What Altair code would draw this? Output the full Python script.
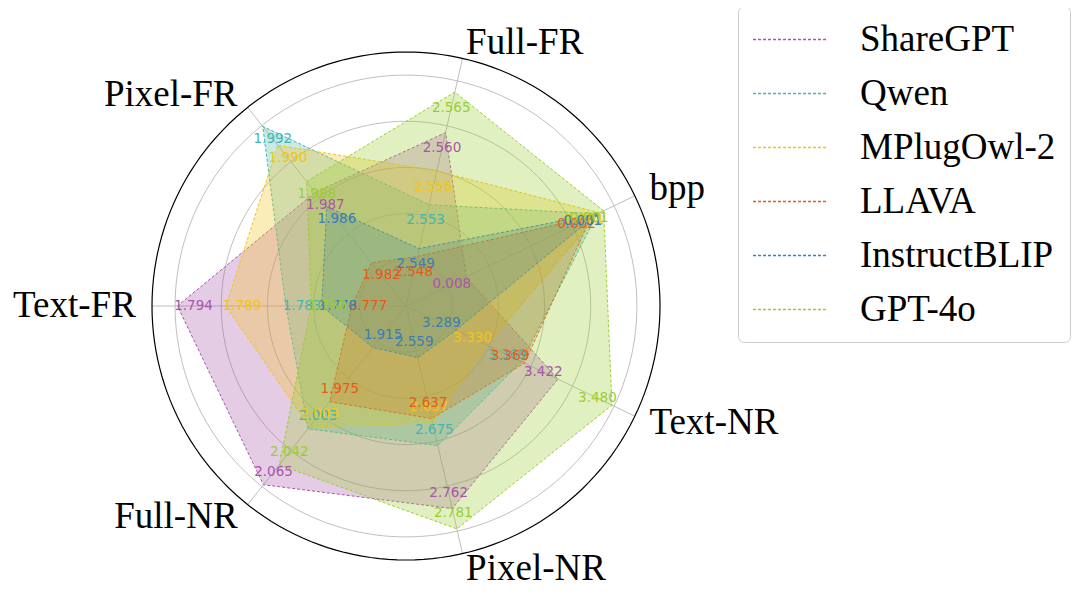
import altair as alt
import pandas as pd

# ---------------- data ----------------
axes = ["bpp", "Full-FR", "Pixel-FR", "Text-FR", "Full-NR", "Pixel-NR", "Text-NR"]
models = ["ShareGPT", "Qwen", "MPlugOwl-2", "LLAVA", "InstructBLIP", "GPT-4o"]
colors = ["#AA55AA", "#45B5B0", "#F2C416", "#E8591A", "#3A7EB5", "#9ACD32"]

# normalised radial position of each model on each axis (order = axes)
r_sharegpt = [0.29, 0.77, 0.63, 0.99, 0.99, 0.90, 0.73]
r_qwen = [0.92, 0.45, 0.995, 0.52, 0.68, 0.62, 0.555]
r_mplug = [0.93, 0.60, 0.89, 0.78, 0.67, 0.52, 0.39]
r_llava = [0.89, 0.22, 0.24, 0.235, 0.53, 0.50, 0.57]
r_instruct = [0.92, 0.255, 0.55, 0.365, 0.23, 0.23, 0.24]
r_gpt4o = [0.95, 0.95, 0.69, 0.41, 0.88, 0.99, 0.99]

# value labels printed at the vertices (order = axes)
v_sharegpt = ["0.008", "2.560", "1.987", "1.794", "2.065", "2.762", "3.422"]
v_qwen = ["0.001", "2.553", "1.992", "1.783", "2.003", "2.675", "3.369"]
v_mplug = ["0.001", "2.556", "1.990", "1.789", "2.003", "2.637", "3.330"]
v_llava = ["0.002", "2.548", "1.982", "0.777", "1.975", "2.637", "3.369"]
v_instruct = ["0.001", "2.549", "1.986", "1.778", "1.915", "2.559", "3.289"]
v_gpt4o = ["0.001", "2.565", "1.988", "1.780", "2.042", "2.781", "3.480"]

grid_levels = [0.2, 0.4, 0.6, 0.8, 1.0]
outer_level = [1.1]

radii = [r_sharegpt, r_qwen, r_mplug, r_llava, r_instruct, r_gpt4o]
vals = [v_sharegpt, v_qwen, v_mplug, v_llava, v_instruct, v_gpt4o]

rows = []
for mi, m in enumerate(models):
    for ai, a in enumerate(axes):
        rows.append({"model": m, "morder": mi, "axis": a, "idx": ai,
                     "r": radii[mi][ai], "label": vals[mi][ai]})
df = pd.DataFrame(rows)
axes_df = pd.DataFrame({"axis": axes, "idx": list(range(len(axes)))})

ring_rows = []
for lv in grid_levels + outer_level:
    for deg in range(0, 361, 2):
        ring_rows.append({"level": lv, "deg": deg})
ring_df = pd.DataFrame(ring_rows)

# ---------------- scales ----------------
W = 508
xs = alt.Scale(domain=[-1.1, 1.1], nice=False, zero=False)
ys = alt.Scale(domain=[-1.1, 1.1], nice=False, zero=False)
cscale = alt.Scale(domain=models, range=colors)

theta_expr = "(datum.idx + 0.5) * 2 * PI / 7"

base = alt.Chart(df).transform_calculate(
    th=theta_expr
).transform_calculate(
    x="datum.r * cos(datum.th)",
    y="datum.r * sin(datum.th)",
    lx="(datum.r - 0.07) * cos(datum.th)",
    ly="(datum.r - 0.07) * sin(datum.th)",
)

# grid rings
rings = alt.Chart(ring_df).transform_filter("datum.level <= 1.0").transform_calculate(
    x="datum.level * cos(datum.deg * PI / 180)",
    y="datum.level * sin(datum.deg * PI / 180)",
).mark_line(color="#b8b8b8", strokeWidth=0.9).encode(
    x=alt.X("x:Q", scale=xs, axis=None),
    y=alt.Y("y:Q", scale=ys, axis=None),
    detail="level:N",
    order="deg:Q",
)

outer = alt.Chart(ring_df).transform_filter("datum.level > 1.0").transform_calculate(
    x="datum.level * cos(datum.deg * PI / 180)",
    y="datum.level * sin(datum.deg * PI / 180)",
).mark_line(color="black", strokeWidth=1.2).encode(
    x=alt.X("x:Q", scale=xs, axis=None),
    y=alt.Y("y:Q", scale=ys, axis=None),
    order="deg:Q",
)

spokes = alt.Chart(axes_df).transform_calculate(
    th=theta_expr
).transform_calculate(
    x0="0", y0="0",
    x1="1.1 * cos(datum.th)", y1="1.1 * sin(datum.th)",
).mark_rule(color="#b8b8b8", strokeWidth=0.9).encode(
    x=alt.X("x0:Q", scale=xs, axis=None),
    y=alt.Y("y0:Q", scale=ys, axis=None),
    x2="x1:Q",
    y2="y1:Q",
)

legend = alt.Legend(
    title=None, orient="none", legendX=586, legendY=-46,
    symbolType="M-2,0H2", symbolSize=1406, symbolStrokeWidth=1.4,
    symbolDash=[3, 2], symbolOffset=19, symbolFillColor="transparent",
    labelFont="Liberation Serif", labelFontSize=37,
    labelColor="black", labelOffset=50, rowPadding=16, padding=14,
    strokeColor="#cccccc", cornerRadius=6, fillColor="white", labelLimit=0,
)

polys = []
for m, c in zip(models, colors):
    polys.append(
        base.transform_filter(alt.datum.model == m).mark_line(
            interpolate="linear-closed", strokeDash=[3, 2], strokeWidth=1,
            fill=c, fillOpacity=0.3,
        ).encode(
            x=alt.X("x:Q", scale=xs, axis=None),
            y=alt.Y("y:Q", scale=ys, axis=None),
            order="idx:Q",
            stroke=alt.Stroke("model:N", scale=cscale, legend=legend),
        )
    )

texts = []
for m, c in zip(models, colors):
    texts.append(
        base.transform_filter(alt.datum.model == m).mark_text(
            font="DejaVu Sans", fontSize=13.5, align="center", baseline="middle",
            color=c,
        ).encode(
            x=alt.X("lx:Q", scale=xs, axis=None),
            y=alt.Y("ly:Q", scale=ys, axis=None),
            text="label:N",
        )
    )

ax_base = alt.Chart(axes_df).transform_calculate(
    th=theta_expr
).transform_calculate(
    x="1.17 * cos(datum.th)", y="1.17 * sin(datum.th)", c="cos(datum.th)"
)
ax_right = ax_base.transform_filter("datum.c > 0").mark_text(
    font="Liberation Serif", fontSize=37, align="left", baseline="middle", color="black"
).encode(
    x=alt.X("x:Q", scale=xs, axis=None),
    y=alt.Y("y:Q", scale=ys, axis=None),
    text="axis:N",
)
ax_left = ax_base.transform_filter("datum.c <= 0").mark_text(
    font="Liberation Serif", fontSize=37, align="right", baseline="middle", color="black"
).encode(
    x=alt.X("x:Q", scale=xs, axis=None),
    y=alt.Y("y:Q", scale=ys, axis=None),
    text="axis:N",
)

chart = alt.layer(rings, spokes, outer, *polys, *texts, ax_right, ax_left).properties(
    width=W, height=W,
    autosize=alt.AutoSizeParams(type="none"),
    padding={"left": 144, "top": 44, "right": 412, "bottom": 29},
).configure_view(stroke=None)

chart.save("out.html", embed_options={"renderer": "svg", "actions": False})
